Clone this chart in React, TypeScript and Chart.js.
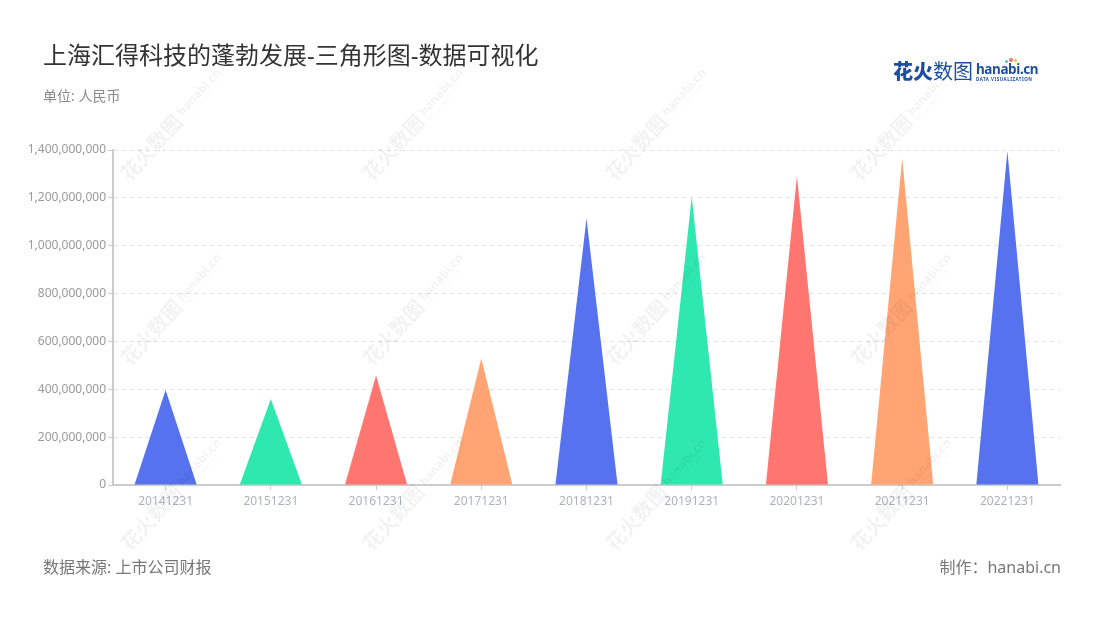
import React, { useEffect, useRef } from "react";
import { Chart, registerables } from "chart.js";

Chart.register(...registerables);

const categories = ["20141231", "20151231", "20161231", "20171231", "20181231", "20191231", "20201231", "20211231", "20221231"];
const revenue = [397000000, 359000000, 458000000, 529000000, 1114000000, 1205000000, 1291000000, 1366000000, 1396000000];
const palette = ["#5672ee", "#2ee8b0", "#ff7670", "#ffa472"];
const yMax = 1400000000;
const yStep = 200000000;

const FONT = "'Noto Sans', 'Noto Sans CJK SC', sans-serif";

const trianglePlugin = {
  id: "triangles",
  afterDatasetsDraw(chart: any) {
    const ctx = chart.ctx;
    const meta = chart.getDatasetMeta(0);
    ctx.save();
    meta.data.forEach((bar: any, i: number) => {
      const { x, y, base, width } = bar.getProps(["x", "y", "base", "width"], true);
      ctx.beginPath();
      ctx.moveTo(x - width / 2, base);
      ctx.lineTo(x, y);
      ctx.lineTo(x + width / 2, base);
      ctx.closePath();
      ctx.fillStyle = palette[i % palette.length];
      ctx.fill();
    });
    ctx.restore();
  },
};

const wmPositions: [number, number][] = [];
[133, 375, 618, 863].forEach((x) => {
  [185, 370, 555].forEach((y) => wmPositions.push([x, y]));
});

function Watermark({ x, y }: { x: number; y: number }) {
  return (
    <div
      style={{
        position: "absolute",
        left: x,
        top: y - 22,
        height: 22,
        transform: "rotate(-48deg)",
        transformOrigin: "0 100%",
        whiteSpace: "nowrap",
        color: "rgba(0,0,0,0.05)",
        fontFamily: FONT,
        display: "flex",
        alignItems: "flex-end",
        pointerEvents: "none",
      }}
    >
      <span style={{ fontSize: 20, fontWeight: 700, lineHeight: "22px" }}>花火数图</span>
      <span style={{ display: "inline-flex", flexDirection: "column", marginLeft: 4, marginBottom: 2 }}>
        <span style={{ fontSize: 12, fontWeight: 700, lineHeight: "13px" }}>hanabi.cn</span>
        <span style={{ fontSize: 4, lineHeight: "5px", letterSpacing: 0.4 }}>DATA VISUALIZATION</span>
      </span>
    </div>
  );
}

export default function App() {
  const ref = useRef<HTMLCanvasElement | null>(null);

  useEffect(() => {
    if (!ref.current) return;
    const chart = new Chart(ref.current, {
      type: "bar",
      data: {
        labels: categories,
        datasets: [
          {
            data: revenue,
            backgroundColor: "rgba(0,0,0,0)",
            borderWidth: 0,
            barPercentage: 0.59,
            categoryPercentage: 1,
          },
        ],
      },
      options: {
        animation: false,
        responsive: false,
        devicePixelRatio: 1,
        events: [],
        layout: { padding: { top: 150, left: 0, right: 40, bottom: 0 } },
        plugins: {
          legend: { display: false },
          tooltip: { enabled: false },
          title: { display: false },
        },
        scales: {
          x: {
            afterFit(scale: any) {
              scale.height = 135;
            },
            grid: {
              offset: false,
              drawOnChartArea: false,
              drawTicks: true,
              tickLength: 5,
              tickColor: "#cccccc",
              tickWidth: 1,
            },
            border: { display: true, color: "#cccccc", width: 2 },
            ticks: {
              color: "#aeb2c0",
              padding: 4,
              maxRotation: 0,
              autoSkip: false,
              font: { family: FONT, size: 12 },
            },
          },
          y: {
            min: 0,
            max: yMax,
            afterFit(scale: any) {
              scale.width = 113;
            },
            grid: {
              color: "#e2e2e2",
              lineWidth: 1,
              drawTicks: true,
              tickLength: 5,
              tickColor: "#cccccc",
              tickBorderDash: [],
            },
            border: { display: true, color: "#cccccc", width: 2, dash: [4, 4] },
            ticks: {
              stepSize: yStep,
              color: "#9a9a9a",
              padding: 2,
              font: { family: FONT, size: 12 },
              callback: (v: any) => Number(v).toLocaleString("en-US"),
            },
          },
        },
      },
      plugins: [trianglePlugin],
    });
    return () => chart.destroy();
  }, []);

  return (
    <div style={{ position: "absolute", left: 0, top: 0, width: 1100, height: 620, background: "#fff", overflow: "hidden", fontFamily: FONT }}>
      <canvas ref={ref} width={1100} height={620} style={{ position: "absolute", left: 0, top: 0, width: 1100, height: 620 }} />
      <div style={{ position: "absolute", left: 43, top: 42, fontSize: 24, lineHeight: "26px", color: "#333333", whiteSpace: "nowrap" }}>
        上海汇得科技的蓬勃发展-三角形图-数据可视化
      </div>
      <div style={{ position: "absolute", left: 43, top: 88, fontSize: 14, lineHeight: "16px", color: "#8a8a8a" }}>单位: 人民币</div>
      <div style={{ position: "absolute", left: 43, top: 557, fontSize: 16, lineHeight: "20px", color: "#777777" }}>数据来源: 上市公司财报</div>
      <div style={{ position: "absolute", right: 39, top: 557, fontSize: 16, lineHeight: "20px", color: "#777777" }}>制作：hanabi.cn</div>
      <div style={{ position: "absolute", left: 893, top: 60, display: "flex", alignItems: "center", color: "#1d4f9e", whiteSpace: "nowrap" }}>
        <span style={{ fontSize: 20, lineHeight: "24px" }}>
          <span style={{ fontWeight: 900 }}>花火</span>
          <span style={{ fontWeight: 400 }}>数图</span>
        </span>
        <span style={{ display: "inline-flex", flexDirection: "column", marginLeft: 3, position: "relative" }}>
          <span style={{ fontSize: 13.5, fontWeight: 700, lineHeight: "14px", letterSpacing: -0.4 }}>hanabi.cn</span>
          <span style={{ fontSize: 4.5, lineHeight: "7px", letterSpacing: 0.5, fontWeight: 700 }}>DATA VISUALIZATION</span>
          <span style={{ position: "absolute", left: 33, top: -4, width: 4, height: 4, borderRadius: 2, background: "#ff6b6b" }} />
          <span style={{ position: "absolute", left: 38, top: -3, width: 3, height: 3, borderRadius: 2, background: "#ffc542" }} />
          <span style={{ position: "absolute", left: 29, top: -2, width: 3, height: 3, borderRadius: 2, background: "#3ad29f" }} />
        </span>
      </div>
      {wmPositions.map(([x, y], i) => (
        <Watermark key={i} x={x} y={y} />
      ))}
    </div>
  );
}
